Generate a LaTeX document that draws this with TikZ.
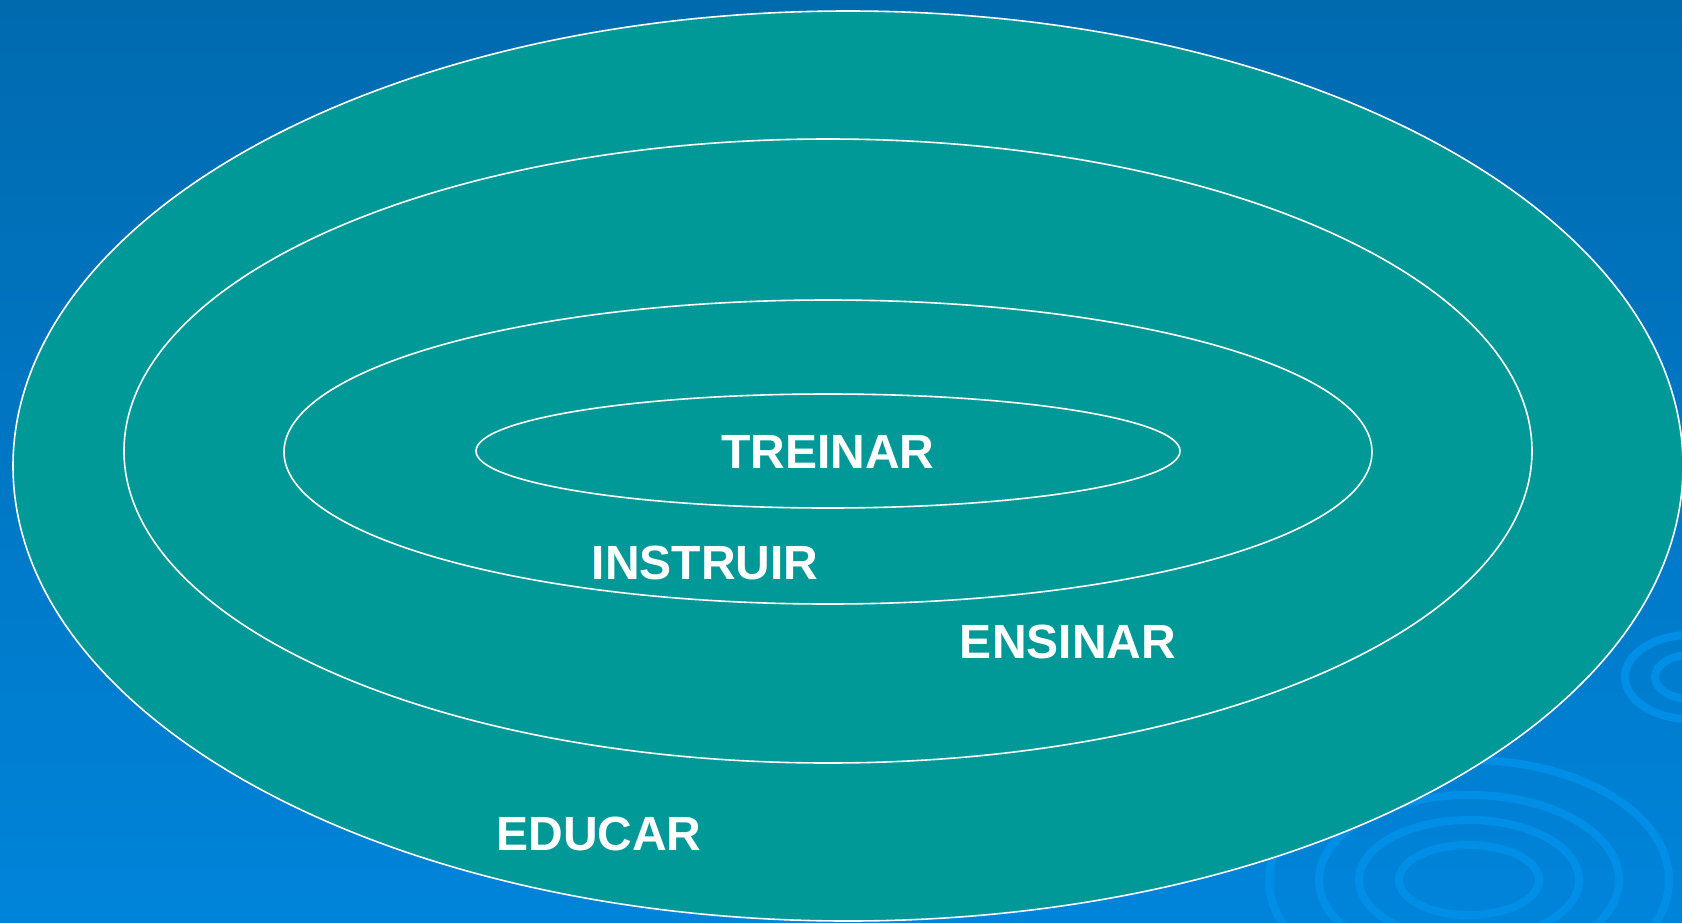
\documentclass[tikz,border=0pt]{standalone}
\usepackage{fontspec}
\setmainfont{Liberation Sans}
\definecolor{bgtop}{RGB}{0,106,175}
\definecolor{bgbottom}{RGB}{0,132,218}
\definecolor{teal}{RGB}{0,153,152}
\definecolor{ripple}{RGB}{0,142,230}
\tikzset{
  ring/.style={draw=white, line width=0.8pt, fill=teal},
  ripplering/.style={draw=ripple, line width=4pt},
  label/.style={text=white, font=\bfseries\fontsize{24}{28}\selectfont, inner sep=0pt}
}
\begin{document}
\begin{tikzpicture}[x=0.5pt, y=-0.5pt]
  \useasboundingbox (0,0) rectangle (1682,922);
  \clip (0,0) rectangle (1682,922);
  \fill[top color=bgtop, bottom color=bgbottom] (0,0) rectangle (1682,922);
  \foreach \rx/\ry in {70/35, 110/60, 150/85, 200/120} {
    \draw[ripplering] (1469,880) ellipse [x radius=\rx, y radius=\ry];
  }
  \foreach \rx/\ry in {35/22, 65/42} {
    \draw[ripplering] (1690,677) ellipse [x radius=\rx, y radius=\ry];
  }
  \draw[ring] (848,466) ellipse [x radius=835, y radius=455];
  \draw[ring] (828,451) ellipse [x radius=704, y radius=312];
  \draw[ring] (828,452) ellipse [x radius=544, y radius=152];
  \draw[ring] (828,451) ellipse [x radius=352, y radius=57];
  \node[label] (treinar) at (828,452) {TREINAR};
  \node[label] (instruir) at (705,563) {INSTRUIR};
  \node[label] (ensinar) at (1068,642) {ENSINAR};
  \node[label] (educar) at (599,834) {EDUCAR};
\end{tikzpicture}
\end{document}
